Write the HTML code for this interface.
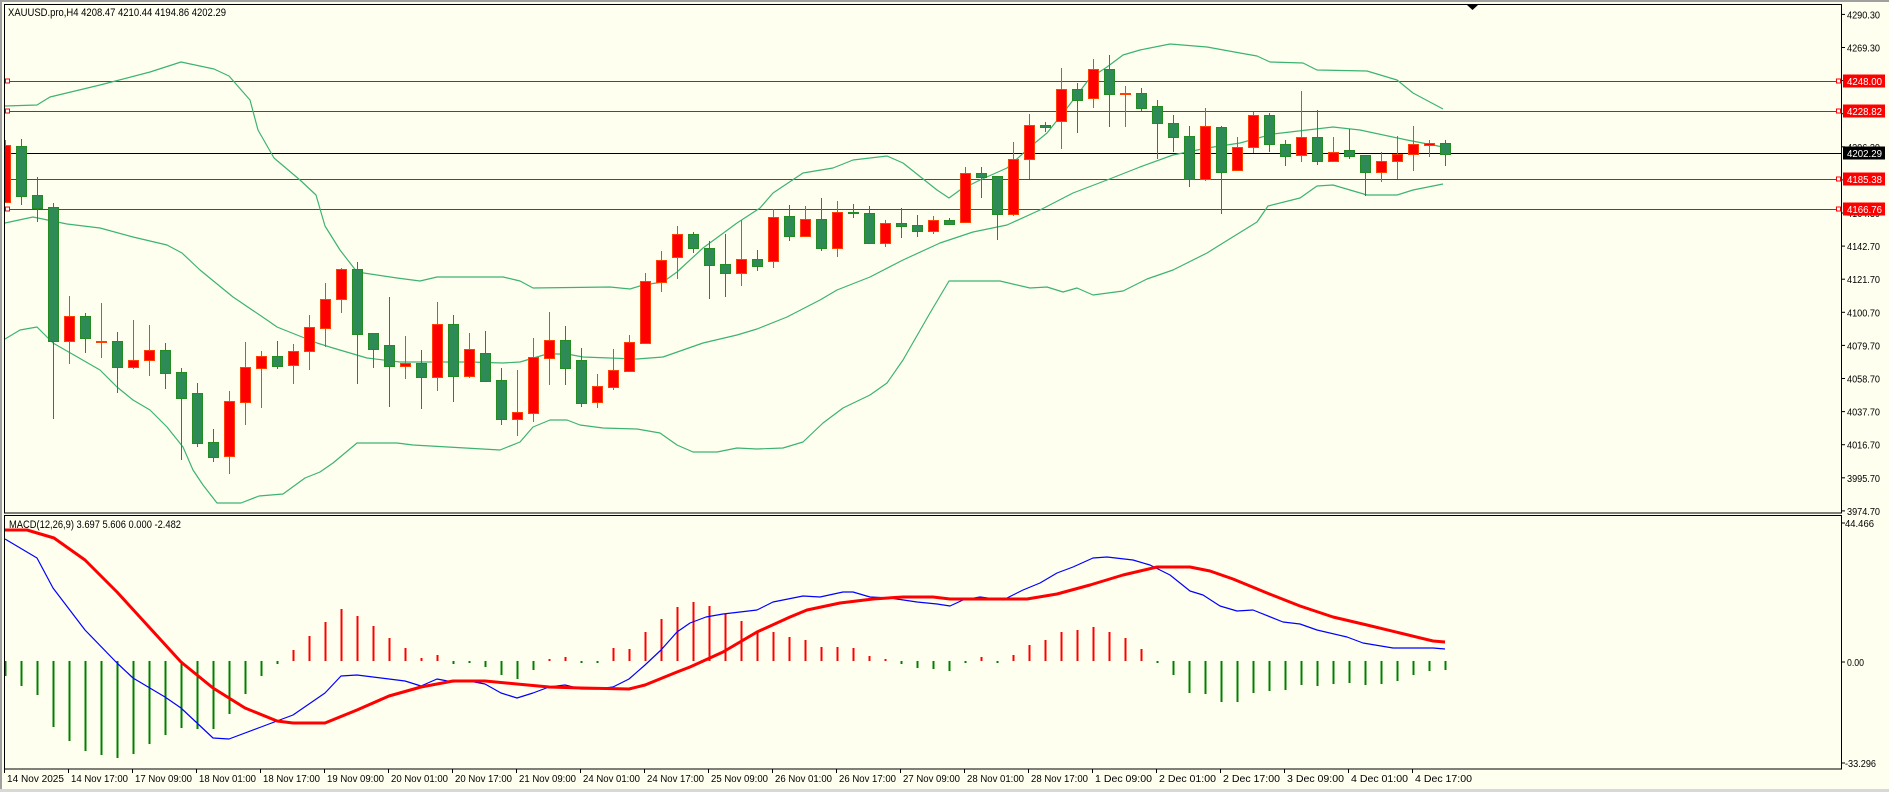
<!DOCTYPE html>
<html><head><meta charset="utf-8"><style>
html,body{margin:0;padding:0;background:#FFFFF0;overflow:hidden}
svg{display:block}
text{font-family:"Liberation Sans",sans-serif;font-size:10px;fill:#000}
</style></head><body>
<svg id="s" width="1889" height="792" viewBox="0 0 1889 792" xmlns="http://www.w3.org/2000/svg">
<rect x="0" y="0" width="1889" height="792" fill="#FFFFF0"/>
<rect x="0" y="0" width="1889" height="2" fill="#A0A0A0"/>
<rect x="0" y="0" width="2" height="792" fill="#A0A0A0"/>
<rect x="0" y="789" width="1889" height="3" fill="#D8D8D8"/>
<g id="g"></g>
<rect x="4.5" y="4.5" width="1837" height="508.5" fill="none" stroke="#000" stroke-width="1"/>
<rect x="4.5" y="515.5" width="1837" height="253.5" fill="none" stroke="#000" stroke-width="1"/>
<polygon points="1467,5 1478,5 1472.5,10" fill="#000"/>
<text x="8" y="16" textLength="218" lengthAdjust="spacingAndGlyphs" style="font-size:11px">XAUUSD.pro,H4  4208.47 4210.44 4194.86 4202.29</text>
<text x="9" y="528" textLength="172" lengthAdjust="spacingAndGlyphs" style="font-size:11px">MACD(12,26,9) 3.697 5.606 0.000 -2.482</text>
<g class="pl">
<text x="1847" y="18.4">4290.30</text>
<text x="1847" y="51.5">4269.30</text>
<text x="1847" y="84.6">4248.30</text>
<text x="1847" y="117.7">4227.30</text>
<text x="1847" y="150.8">4206.30</text>
<text x="1847" y="183.9">4185.30</text>
<text x="1847" y="217">4164.30</text>
<text x="1847" y="250.1">4142.70</text>
<text x="1847" y="283.2">4121.70</text>
<text x="1847" y="316.3">4100.70</text>
<text x="1847" y="349.4">4079.70</text>
<text x="1847" y="382.5">4058.70</text>
<text x="1847" y="415.6">4037.70</text>
<text x="1847" y="448.7">4016.70</text>
<text x="1847" y="481.8">3995.70</text>
<text x="1847" y="514.9">3974.70</text>
</g>
<text x="1845" y="527" textLength="29" lengthAdjust="spacingAndGlyphs">44.466</text>
<text x="1847" y="666" textLength="17" lengthAdjust="spacingAndGlyphs">0.00</text>
<text x="1845" y="767" textLength="31" lengthAdjust="spacingAndGlyphs">-33.296</text>
<g class="tg">
<rect x="1843" y="74.5" width="42" height="13" fill="#FF0000"/><text x="1847" y="85" style="fill:#fff">4248.00</text>
<rect x="1843" y="104.5" width="42" height="13" fill="#FF0000"/><text x="1847" y="115" style="fill:#fff">4228.82</text>
<rect x="1843" y="146.5" width="42" height="13" fill="#000"/><text x="1847" y="157" style="fill:#fff">4202.29</text>
<rect x="1843" y="172.5" width="42" height="13" fill="#FF0000"/><text x="1847" y="183" style="fill:#fff">4185.38</text>
<rect x="1843" y="202.5" width="42" height="13" fill="#FF0000"/><text x="1847" y="213" style="fill:#fff">4166.76</text>
</g>
<g class="dl">
<text x="7" y="782">14 Nov 2025</text>
<text x="71" y="782">14 Nov 17:00</text>
<text x="135" y="782">17 Nov 09:00</text>
<text x="199" y="782">18 Nov 01:00</text>
<text x="263" y="782">18 Nov 17:00</text>
<text x="327" y="782">19 Nov 09:00</text>
<text x="391" y="782">20 Nov 01:00</text>
<text x="455" y="782">20 Nov 17:00</text>
<text x="519" y="782">21 Nov 09:00</text>
<text x="583" y="782">24 Nov 01:00</text>
<text x="647" y="782">24 Nov 17:00</text>
<text x="711" y="782">25 Nov 09:00</text>
<text x="775" y="782">26 Nov 01:00</text>
<text x="839" y="782">26 Nov 17:00</text>
<text x="903" y="782">27 Nov 09:00</text>
<text x="967" y="782">28 Nov 01:00</text>
<text x="1031" y="782">28 Nov 17:00</text>
<text x="1095" y="782">1 Dec 09:00</text>
<text x="1159" y="782">2 Dec 01:00</text>
<text x="1223" y="782">2 Dec 17:00</text>
<text x="1287" y="782">3 Dec 09:00</text>
<text x="1351" y="782">4 Dec 01:00</text>
<text x="1415" y="782">4 Dec 17:00</text>
</g>
</svg>
<script>
var NS="http://www.w3.org/2000/svg",g=document.getElementById("g");
function fit(sel,fn){document.querySelectorAll(sel).forEach(function(t){t.setAttribute("textLength",fn(t));t.setAttribute("lengthAdjust","spacingAndGlyphs");});}
fit(".pl text",function(){return 33;});
fit(".tg text",function(){return 35;});
fit(".dl text",function(t){return t.textContent.length==11?57:(t.textContent.length==10?52:57);});
function el(t,a){var e=document.createElementNS(NS,t);for(var k in a)e.setAttribute(k,a[k]);g.appendChild(e);return e;}
function poly(pts,col,w){el("polyline",{points:pts.map(function(p){return p.join(",")}).join(" "),fill:"none",stroke:col,"stroke-width":w,"stroke-linejoin":"round"});}
var d=el("clipPath",{id:"c1"});var r=document.createElementNS(NS,"rect");r.setAttribute("x",5);r.setAttribute("y",5);r.setAttribute("width",1836);r.setAttribute("height",508);d.appendChild(r);
[[81,"#FF0000"],[111,"#FF0000"],[179,"#FF0000"],[209,"#FF0000"]].forEach(function(l){el("line",{x1:5,x2:1841,y1:l[0]+.5,y2:l[0]+.5,stroke:l[1],"stroke-width":1});
el("rect",{x:5.5,y:l[0]-2,width:4,height:4,fill:"#fff",stroke:"#FF0000"});el("rect",{x:1836.5,y:l[0]-2,width:4,height:4,fill:"#fff",stroke:"#FF0000"});});
el("line",{x1:5,x2:1841,y1:153.5,y2:153.5,stroke:"#000","stroke-width":1});
var BC="#3CB371";
poly([[5,106],[37,105],[50,97],[100,85],[150,72],[181,62],[214,69],[229,76],[250,100],[258,130],[274,158],[300,180],[316,195],[325,226],[340,250],[357,272],[397,278],[420,281],[437,277],[503,277],[520,281],[533,288],[610,287],[630,289],[643,285],[663,282],[677,272],[703,248],[737,223],[760,208],[773,193],[803,173],[833,168],[853,160],[887,156],[903,163],[937,190],[949,198],[960,190],[980,180],[1007,168],[1030,147],[1047,133],[1067,108],[1090,78],[1107,67],[1123,55],[1140,50],[1170,44],[1207,47],[1240,53],[1257,56],[1270,62],[1303,63],[1317,70],[1367,71],[1397,80],[1413,93],[1443,109]],BC,1.2);
poly([[5,223],[33,217],[67,224],[100,228],[133,237],[167,245],[182,253],[200,270],[233,297],[267,320],[277,327],[317,343],[333,348],[367,358],[400,362],[470,362],[503,363],[520,362],[547,354],[567,354],[583,357],[637,359],[663,357],[703,343],[737,335],[757,329],[787,317],[820,300],[837,290],[870,277],[903,260],[940,243],[973,232],[1007,225],[1040,210],[1073,193],[1107,180],[1140,167],[1173,155],[1207,148],[1240,143],[1273,134],[1307,130],[1333,127],[1360,130],[1407,140],[1443,147]],BC,1.2);
poly([[5,339],[20,330],[37,327],[53,343],[100,370],[117,387],[133,400],[150,410],[167,427],[183,447],[193,470],[203,485],[217,503],[241,503],[259,496],[283,494],[305,478],[320,472],[333,463],[357,443],[397,443],[413,445],[500,450],[520,442],[533,427],[550,420],[567,420],[580,425],[603,428],[637,429],[660,433],[677,445],[693,452],[717,452],[737,448],[757,449],[783,448],[803,442],[823,423],[843,408],[870,395],[887,383],[903,360],[930,313],[949,281],[1000,281],[1030,288],[1047,287],[1063,292],[1077,288],[1093,295],[1123,291],[1147,279],[1173,270],[1207,253],[1223,243],[1257,222],[1268,206],[1300,198],[1317,186],[1333,185],[1367,195],[1397,195],[1413,190],[1443,184]],BC,1.2);
var C=[["r",145,202,140,203],["g",146,196,139,205],["g",195,208,177,222],["g",207,341,203,419],["r",316,341,296,364],["g",316,338,313,353],["r",341,342,303,358],["g",341,367,332,393],["r",360,367,320,369],["r",350,360,325,376],
["g",350,373,343,389],["g",372,398,368,460],["g",393,443,383,447],["g",442,457,429,462],["r",401,456,391,474],["r",367,402,342,425],["r",356,368,351,408],["g",356,366,341,369],["r",351,365,344,384],["r",327,351,315,370],
["r",299,328,283,347],["r",269,299,268,313],["g",269,334,262,384],["g",333,349,333,368],["g",345,366,297,407],["r",363,366,336,379],["g",363,377,350,409],["r",324,377,302,391],["g",324,376,315,402],["r",349,376,333,378],
["g",353,381,331,382],["g",380,419,368,425],["r",412,419,370,436],["r",357,413,338,422],["r",340,358,312,385],["g",340,368,326,385],["g",360,403,348,407],["r",386,402,374,408],["r",370,387,349,390],["r",342,371,335,372],
["r",281,343,273,343],["r",260,282,251,292],["r",234,257,226,279],["g",234,248,232,253],["g",248,265,241,299],["g",264,273,234,297],["r",259,273,220,286],["g",259,266,250,271],["r",217,261,209,268],["g",216,236,205,241],
["r",219,236,206,237],["g",219,248,198,251],["r",212,248,201,257],["g",212,213,204,218],["g",213,243,206,244],["r",223,243,220,247],["g",223,226,208,238],["g",225,231,215,237],["r",220,231,216,234],["g",220,224,218,224],
["r",173,222,167,222],["g",173,177,167,198],["g",176,214,176,240],["r",159,214,142,216],["r",125,159,114,179],["g",125,127,122,132],["r",89,121,68,149],["g",89,100,83,133],["r",69,98,59,108],["g",69,94,55,127],
["r",93,94,86,127],["g",93,108,88,111],["g",106,123,100,159],["g",123,137,115,152],["g",136,179,126,187],["r",126,179,108,181],["g",127,172,126,214],["r",147,170,137,170],["r",115,147,112,153],["g",115,144,113,152],
["g",144,156,140,166],["r",137,155,91,162],["g",137,161,110,165],["r",152,161,137,161],["g",150,156,129,159],["g",155,172,155,196],["r",161,172,152,182],["r",154,161,136,179],["r",144,154,126,171],["r",143,145,140,157],["g",143,154,140,166]];
var cg=el("g",{"clip-path":"url(#c1)"});
C.forEach(function(c,i){var x=5.5+16*i,red=c[0]=="r";var wc=red?"#FF4000":"#228B22";
var w=document.createElementNS(NS,"line");w.setAttribute("x1",x);w.setAttribute("x2",x);w.setAttribute("y1",c[3]);w.setAttribute("y2",c[4]);w.setAttribute("stroke",wc);w.setAttribute("stroke-width",1);cg.appendChild(w);
var h=Math.max(1,c[2]-c[1]);var b=document.createElementNS(NS,"rect");b.setAttribute("x",x-5);b.setAttribute("y",c[1]+.5);b.setAttribute("width",10);b.setAttribute("height",h);b.setAttribute("fill",red?"#FF0000":"#2E8B57");b.setAttribute("stroke",wc);b.setAttribute("stroke-width",1);cg.appendChild(b);});
var Z=661,H=[676,686,695,727,741,751,755,758,754,744,735,728,729,729,714,694,676,664,650,636,622,609,616,626,638,648,658,655,664,662,667,675,679,670,659,657,662,662,648,649,632,619,607,602,606,614,621,632,632,637,640,647,647,648,656,659,664,668,669,671,663,657,662,655,645,640,632,630,627,632,638,649,662,675,693,694,702,702,693,691,690,685,686,684,683,685,684,681,675,671,670];
H.forEach(function(v,i){var x=5.5+16*i;var up=v<Z;var y1=Z,y2=v;if(Math.abs(v-Z)<2){y2=up?Z-2:Z+2;}
el("line",{x1:x,x2:x,y1:y1,y2:y2,stroke:up?"#FF0000":"#008000","stroke-width":2});});
poly([[5,539],[37,558],[53,588],[85,630],[117,663],[133,678],[165,697],[181,708],[213,738],[229,739],[261,727],[293,715],[325,693],[341,676],[357,675],[389,679],[405,681],[421,686],[437,679],[453,682],[469,681],[485,684],[501,693],[517,698],[533,693],[549,687],[565,685],[581,689],[597,689],[613,687],[629,679],[645,665],[661,650],[677,632],[690,623],[706,617],[723,614],[757,610],[773,602],[803,596],[820,597],[843,592],[853,592],[870,597],[890,598],[917,602],[937,604],[950,606],[963,600],[980,597],[1003,600],[1023,590],[1040,583],[1057,573],[1073,567],[1093,558],[1107,557],[1133,560],[1150,565],[1170,575],[1190,591],[1203,595],[1220,606],[1237,611],[1253,610],[1283,622],[1300,624],[1317,630],[1347,637],[1363,643],[1393,648],[1433,648],[1445,649]],"#0000FF",1.2);
poly([[5,530],[27,530],[54,538],[85,560],[117,592],[149,627],[181,662],[213,688],[245,708],[277,721],[293,723],[325,723],[357,710],[389,696],[421,687],[453,681],[485,681],[517,684],[549,687],[581,688],[629,689],[645,685],[677,672],[690,667],[723,652],[757,632],[790,617],[807,610],[840,603],[873,599],[903,597],[933,597],[950,599],[980,599],[1027,599],[1057,594],[1090,585],[1123,575],[1157,567],[1190,567],[1210,571],[1233,579],[1267,593],[1300,606],[1333,617],[1367,625],[1400,633],[1433,641],[1445,642]],"#FF0000",3);
for(var i=0;i<23;i++){el("line",{x1:4.5+64*i,x2:4.5+64*i,y1:769,y2:773,stroke:"#000"});}
for(var k=0;k<16;k++){var y=14.4+k*33.1;el("line",{x1:1842,x2:1845,y1:y,y2:y,stroke:"#000"});}
[523,662,763].forEach(function(y){el("line",{x1:1842,x2:1845,y1:y,y2:y,stroke:"#000"});});
</script>
</body></html>
